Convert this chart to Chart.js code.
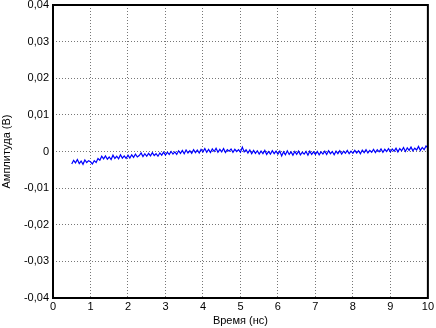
<!DOCTYPE html>
<html>
<head>
<meta charset="utf-8">
<script src="https://cdn.jsdelivr.net/npm/chart.js@4/dist/chart.umd.min.js"></script>
<style>
  html, body { margin: 0; padding: 0; background: #fff; }
  #wrap { width: 436px; height: 328px; }
</style>
</head>
<body>
<div id="wrap"><canvas id="chart" width="436" height="328"></canvas></div>
<script>
// Données (temps en ns, amplitude en V)
const time = [
  0.50, 0.55, 0.60, 0.65, 0.70, 0.75, 0.80, 0.85, 0.90, 0.95,
  1.00, 1.05, 1.10, 1.15, 1.20, 1.25, 1.30, 1.35, 1.40, 1.45, 1.50, 1.55, 1.60, 1.65, 1.70, 1.75, 1.80, 1.85, 1.90, 1.95,
  2.00, 2.05, 2.10, 2.15, 2.20, 2.25, 2.30, 2.35, 2.40, 2.45, 2.50, 2.55, 2.60, 2.65, 2.70, 2.75, 2.80, 2.85, 2.90, 2.95,
  3.00, 3.05, 3.10, 3.15, 3.20, 3.25, 3.30, 3.35, 3.40, 3.45, 3.50, 3.55, 3.60, 3.65, 3.70, 3.75, 3.80, 3.85, 3.90, 3.95,
  4.00, 4.05, 4.10, 4.15, 4.20, 4.25, 4.30, 4.35, 4.40, 4.45, 4.50, 4.55, 4.60, 4.65, 4.70, 4.75, 4.80, 4.85, 4.90, 4.95,
  5.00, 5.05, 5.10, 5.15, 5.20, 5.25, 5.30, 5.35, 5.40, 5.45, 5.50, 5.55, 5.60, 5.65, 5.70, 5.75, 5.80, 5.85, 5.90, 5.95,
  6.00, 6.05, 6.10, 6.15, 6.20, 6.25, 6.30, 6.35, 6.40, 6.45, 6.50, 6.55, 6.60, 6.65, 6.70, 6.75, 6.80, 6.85, 6.90, 6.95,
  7.00, 7.05, 7.10, 7.15, 7.20, 7.25, 7.30, 7.35, 7.40, 7.45, 7.50, 7.55, 7.60, 7.65, 7.70, 7.75, 7.80, 7.85, 7.90, 7.95,
  8.00, 8.05, 8.10, 8.15, 8.20, 8.25, 8.30, 8.35, 8.40, 8.45, 8.50, 8.55, 8.60, 8.65, 8.70, 8.75, 8.80, 8.85, 8.90, 8.95,
  9.00, 9.05, 9.10, 9.15, 9.20, 9.25, 9.30, 9.35, 9.40, 9.45, 9.50, 9.55, 9.60, 9.65, 9.70, 9.75, 9.80, 9.85, 9.90, 9.95,
  10.00
];
const amplitude = [
  -0.0034, -0.0024, -0.0031, -0.0022, -0.0033, -0.0026, -0.0035, -0.0023, -0.0030, -0.0025,
  -0.0028, -0.0034, -0.0025, -0.0030, -0.0019, -0.0024, -0.0013, -0.0020, -0.0012, -0.0021,
  -0.0015, -0.0022, -0.0010, -0.0019, -0.0013, -0.0020, -0.0009, -0.0018, -0.0012, -0.0019,
  -0.0010, -0.0018, -0.0009, -0.0016, -0.0007, -0.0015, -0.0011, -0.0004, -0.0014, -0.0006,
  -0.0013, -0.0005, -0.0012, -0.0003, -0.0011, -0.0006, -0.0013, -0.0004, -0.0010, -0.0002,
  -0.0010, -0.0002, -0.0008, 0.0000, -0.0007, -0.0001, -0.0008, 0.0002, -0.0005, 0.0003,
  -0.0006, 0.0004, -0.0004, 0.0002, -0.0005, 0.0005, -0.0003, 0.0004, -0.0004, 0.0006,
  -0.0001, 0.0008, -0.0002, 0.0006, -0.0003, 0.0007, 0.0000, 0.0009, -0.0002, 0.0006,
  -0.0001, 0.0008, -0.0003, 0.0005, 0.0001, 0.0007, -0.0002, 0.0006, 0.0000, 0.0005,
  -0.0002, 0.0012, -0.0001, 0.0005, -0.0004, 0.0004, -0.0006, 0.0003, -0.0005, 0.0002,
  -0.0007, 0.0001, -0.0006, 0.0003, -0.0008, 0.0000, -0.0007, 0.0002, -0.0006, 0.0001,
  -0.0007, 0.0001, -0.0012, -0.0001, -0.0009, 0.0002, -0.0008, -0.0001, -0.0010, 0.0000,
  -0.0008, 0.0001, -0.0009, -0.0002, -0.0007, 0.0000, -0.0010, 0.0001, -0.0008, -0.0001,
  -0.0008, 0.0000, -0.0009, -0.0001, -0.0007, 0.0001, -0.0008, 0.0002, -0.0006, 0.0000,
  -0.0009, 0.0001, -0.0006, 0.0002, -0.0007, 0.0001, -0.0005, 0.0003, -0.0006, 0.0001,
  -0.0005, 0.0003, -0.0004, 0.0002, -0.0006, 0.0004, -0.0003, 0.0005, -0.0004, 0.0003,
  -0.0002, 0.0006, -0.0003, 0.0005, -0.0001, 0.0007, -0.0002, 0.0006, 0.0000, 0.0008,
  -0.0001, 0.0007, 0.0001, 0.0009, -0.0001, 0.0008, 0.0002, 0.0011, 0.0000, 0.0010,
  0.0003, 0.0012, 0.0002, 0.0009, 0.0004, 0.0014, 0.0003, 0.0011, 0.0005, 0.0015,
  0.0010
];
const xTitle = "Время (нс)";
const yTitle = "Амплитуда (В)";

const points = time.map((t, i) => ({ x: t, y: amplitude[i] }));

// Cadre noir autour de la zone de tracé
const frame = {
  id: "frame",
  afterDraw(chart) {
    const a = chart.chartArea;
    const c = chart.ctx;
    c.save();
    c.strokeStyle = "#000";
    c.lineWidth = 2;
    c.strokeRect(a.left, a.top, a.right - a.left, a.bottom - a.top);
    c.restore();
  }
};

const font = { family: "'Liberation Sans', Arial, sans-serif", size: 11 };

new Chart(document.getElementById("chart"), {
  type: "line",
  data: {
    datasets: [{
      data: points,
      borderColor: "#0000ff",
      borderWidth: 1.2,
      pointRadius: 0,
      tension: 0,
      fill: false
    }]
  },
  options: {
    responsive: false,
    animation: false,
    layout: { padding: { top: 5, right: 6, bottom: 0, left: 0 } },
    plugins: { legend: { display: false }, tooltip: { enabled: false } },
    scales: {
      x: {
        type: "linear",
        min: 0, max: 10,
        afterFit(scale) { scale.height = 30; },
        ticks: { stepSize: 1, color: "#000", font: font, padding: 2, maxRotation: 0 },
        grid: { color: "#777", drawTicks: false },
        border: { display: false, dash: [1, 2] },
        title: { display: true, text: xTitle, color: "#000", font: font, padding: 0 }
      },
      y: {
        min: -0.04, max: 0.04,
        // pas de marge pour la moitié des libellés en haut et en bas
        afterFit(scale) { scale.width = 53; scale.paddingTop = 0; scale.paddingBottom = 0; },
        ticks: {
          stepSize: 0.01, color: "#000", font: font, padding: 4,
          callback: v => Math.abs(v) < 1e-9 ? "0" : v.toFixed(2).replace(".", ",")
        },
        grid: { color: "#777", drawTicks: false },
        border: { display: false, dash: [1, 2] },
        title: { display: true, text: yTitle, color: "#000", font: font, padding: 0 }
      }
    }
  },
  plugins: [frame]
});
</script>
</body>
</html>
